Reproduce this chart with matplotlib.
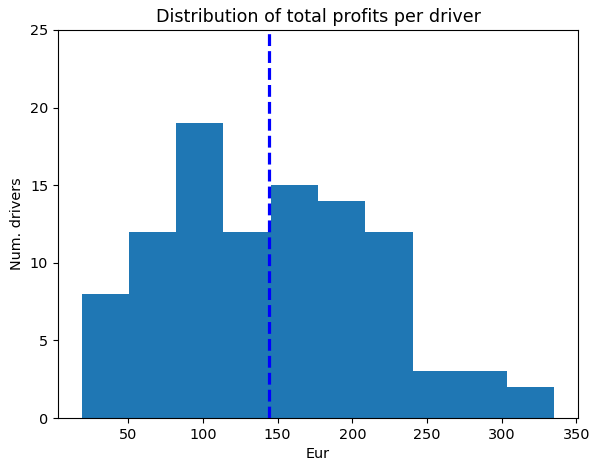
import numpy as np
import matplotlib
matplotlib.use("Agg")
import matplotlib.pyplot as plt

# Data
bin_low = 18.8
bin_high = 335.2
n_bins = 10
counts = [8, 12, 19, 12, 15, 14, 12, 3, 3, 2]
mean_profit = 144.2

edges = np.linspace(bin_low, bin_high, n_bins + 1)
centers = (edges[:-1] + edges[1:]) / 2

fig = plt.figure(figsize=(5.91, 4.63), dpi=100)
ax = fig.add_axes([58/591, 1-418/463, (578-58)/591, (418-30)/463])
ax.hist(centers, bins=edges, weights=counts, color='#1f77b4')
ax.axvline(mean_profit, color='blue', linestyle='--', linewidth=2.3)
ax.set_ylim(0, 25)
ax.set_title('Distribution of total profits per driver', fontsize=12.6)
ax.set_xlabel('Eur', fontsize=10.4)
ax.set_ylabel('Num. drivers', fontsize=10.4)
ax.tick_params(labelsize=10.4)
fig.savefig('out.png', dpi=100)
